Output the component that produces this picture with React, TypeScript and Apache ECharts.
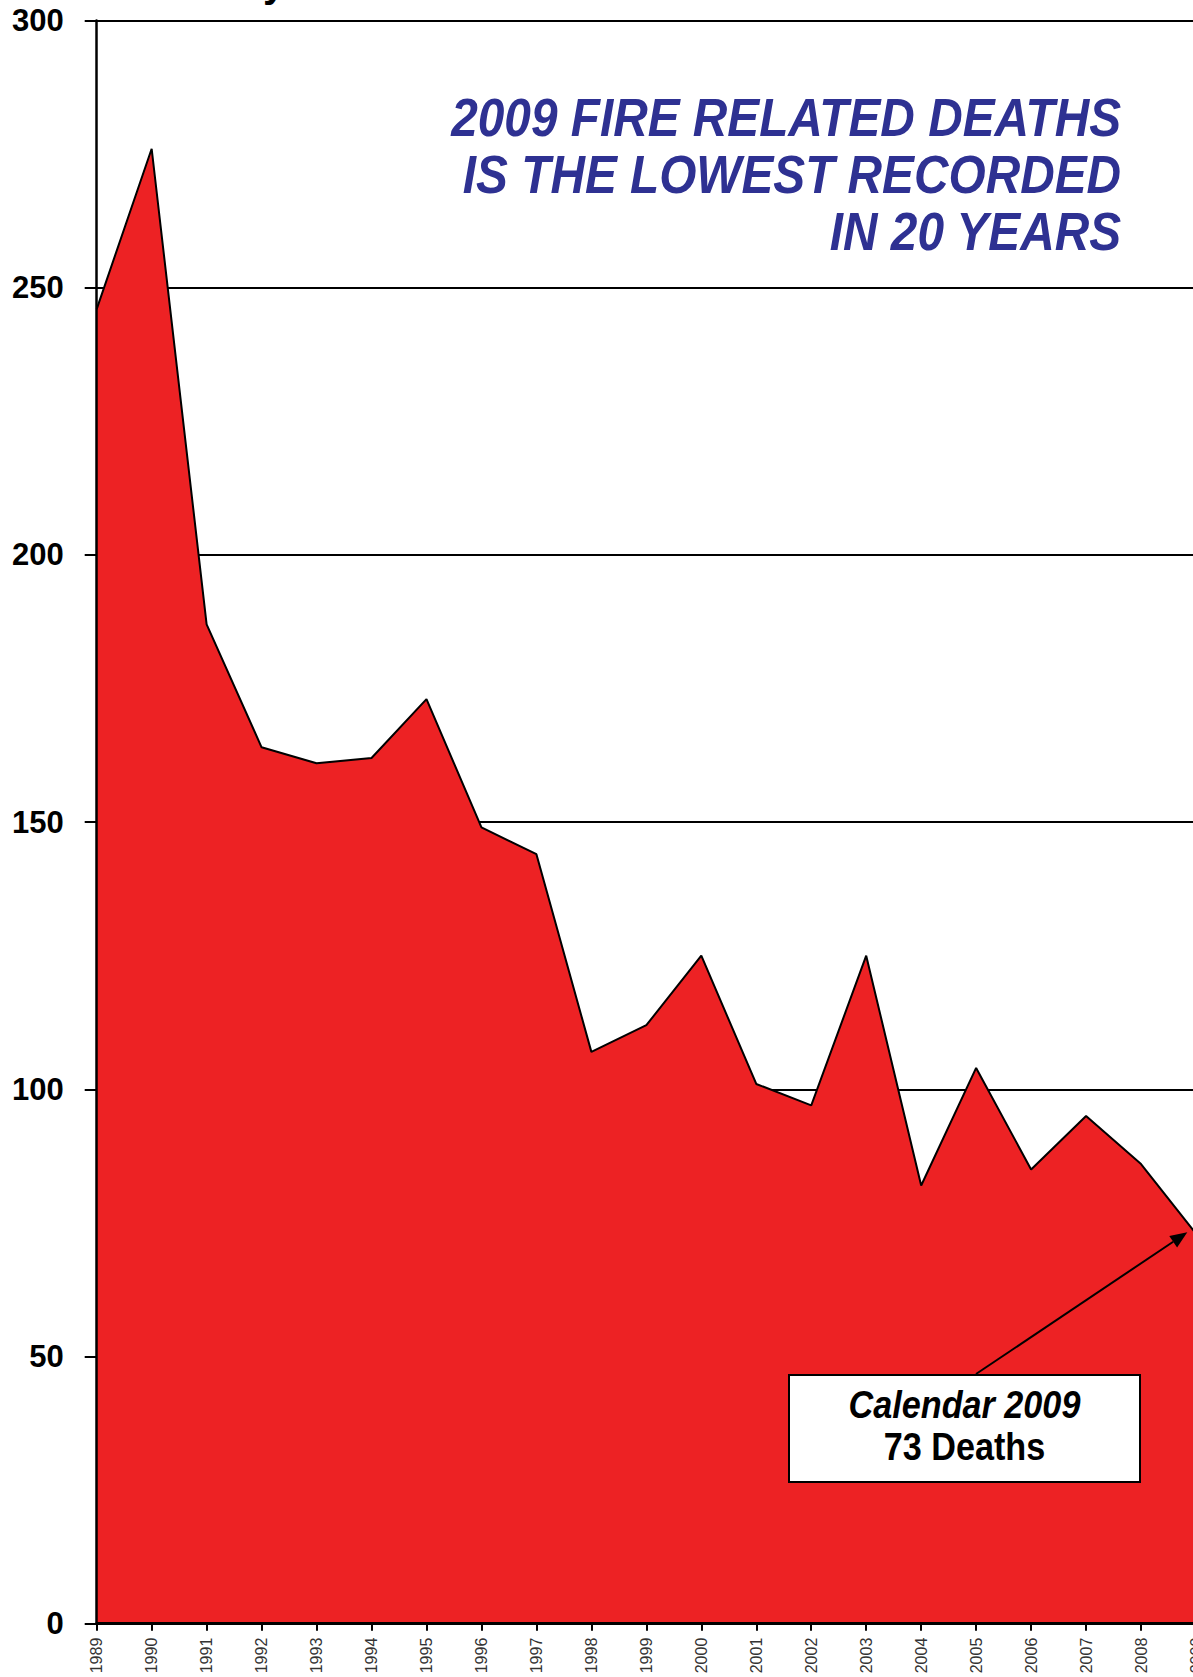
import React, { useEffect, useRef } from "react";
import * as echarts from "echarts";

const years = [
  "1989", "1990", "1991", "1992", "1993", "1994", "1995", "1996", "1997", "1998",
  "1999", "2000", "2001", "2002", "2003", "2004", "2005", "2006", "2007", "2008", "2009",
];
const deaths = [246, 276, 187, 164, 161, 162, 173, 149, 144, 107, 112, 125, 101, 97, 125, 82, 104, 85, 95, 86, 73];
const yMin = 0;
const yMax = 300;
const yStep = 50;
const headline = ["2009 FIRE RELATED DEATHS", "IS THE LOWEST RECORDED", "IN 20 YEARS"];
const calloutLines = ["Calendar 2009", "73 Deaths"];

const FONT = "'Liberation Sans', Arial, Helvetica, sans-serif";

export default function App() {
  const ref = useRef<HTMLDivElement>(null);

  useEffect(() => {
    if (!ref.current) return;
    const chart = echarts.init(ref.current, undefined, { renderer: "svg" });

    // arrow geometry
    const tail = [976, 1374];
    const tip = [1187.3, 1232.3];
    const dx = tip[0] - tail[0];
    const dy = tip[1] - tail[1];
    const len = Math.sqrt(dx * dx + dy * dy);
    const ux = dx / len;
    const uy = dy / len;
    const headLen = 17;
    const headHalf = 7;
    const bx = tip[0] - headLen * ux;
    const by = tip[1] - headLen * uy;
    const nx = -uy;
    const ny = ux;

    chart.setOption({
      animation: false,
      backgroundColor: "#ffffff",
      grid: { left: 96.7, right: 14, top: 20.5, bottom: 53.3, containLabel: false },
      xAxis: {
        type: "category",
        data: years,
        boundaryGap: false,
        z: 10,
        axisLine: { show: true, lineStyle: { color: "#000", width: 3 } },
        axisTick: { show: true, inside: false, length: 7, lineStyle: { color: "#000", width: 2 } },
        axisLabel: {
          rotate: 90,
          margin: 14,
          fontSize: 16,
          color: "#333",
          fontFamily: FONT,
          interval: 0,
        },
        splitLine: { show: false },
      },
      yAxis: [
        {
          type: "value",
          min: yMin,
          max: yMax,
          interval: yStep,
          position: "left",
          axisLine: { show: false },
          axisTick: { show: false },
          axisLabel: {
            margin: 33,
            fontSize: 31,
            fontWeight: "bold",
            color: "#000",
            fontFamily: FONT,
          },
          splitLine: { show: true, lineStyle: { color: "#000", width: 2 } },
        },
        {
          type: "value",
          min: yMin,
          max: yMax,
          interval: yStep,
          position: "left",
          offset: 0,
          z: 10,
          axisLine: { show: true, lineStyle: { color: "#000", width: 2.5 } },
          axisTick: { show: true, inside: false, length: 12, lineStyle: { color: "#000", width: 2 } },
          axisLabel: { show: false },
          splitLine: { show: false },
        },
      ],
      series: [
        {
          type: "line",
          data: deaths,
          yAxisIndex: 0,
          symbol: "none",
          z: 2,
          lineStyle: { color: "#000", width: 2 },
          areaStyle: { color: "#ed2224", opacity: 1 },
        },
      ],
      graphic: [
        {
          type: "text",
          x: 263,
          y: 3,
          z: 100,
          style: {
            text: "y",
            fontSize: 40,
            fontWeight: "bold",
            fontFamily: FONT,
            fill: "#000",
            align: "left",
            verticalAlign: "bottom",
          },
        },
        {
          type: "text",
          x: 1121,
          y: 174.4,
          scaleX: 0.885,
          z: 100,
          style: {
            text: headline.join("\n"),
            fontSize: 54,
            lineHeight: 57,
            fontWeight: "bold",
            fontStyle: "italic",
            fontFamily: FONT,
            fill: "#2e3192",
            align: "right",
            verticalAlign: "middle",
          },
        },
        {
          type: "line",
          z: 100,
          shape: { x1: tail[0], y1: tail[1], x2: bx, y2: by },
          style: { stroke: "#000", lineWidth: 2 },
        },
        {
          type: "polygon",
          z: 100,
          shape: {
            points: [
              [tip[0], tip[1]],
              [bx + headHalf * nx, by + headHalf * ny],
              [bx - headHalf * nx, by - headHalf * ny],
            ],
          },
          style: { fill: "#000" },
        },
        {
          type: "rect",
          z: 101,
          shape: { x: 789, y: 1375, width: 351, height: 107 },
          style: { fill: "#fff", stroke: "#000", lineWidth: 2 },
        },
        {
          type: "text",
          x: 964.5,
          y: 1405,
          scaleX: 0.9,
          z: 102,
          style: {
            text: calloutLines[0],
            fontSize: 38,
            fontWeight: "bold",
            fontStyle: "italic",
            fontFamily: FONT,
            fill: "#000",
            align: "center",
            verticalAlign: "middle",
          },
        },
        {
          type: "text",
          x: 964.5,
          y: 1447,
          scaleX: 0.9,
          z: 102,
          style: {
            text: calloutLines[1],
            fontSize: 38,
            fontWeight: "bold",
            fontFamily: FONT,
            fill: "#000",
            align: "center",
            verticalAlign: "middle",
          },
        },
      ],
    });

    return () => {
      chart.dispose();
    };
  }, []);

  return (
    <div
      style={{
        position: "absolute",
        left: 0,
        top: 0,
        width: 1193,
        height: 1677,
        overflow: "hidden",
        background: "#fff",
      }}
    >
      <div ref={ref} style={{ width: 1210, height: 1677 }} />
    </div>
  );
}
